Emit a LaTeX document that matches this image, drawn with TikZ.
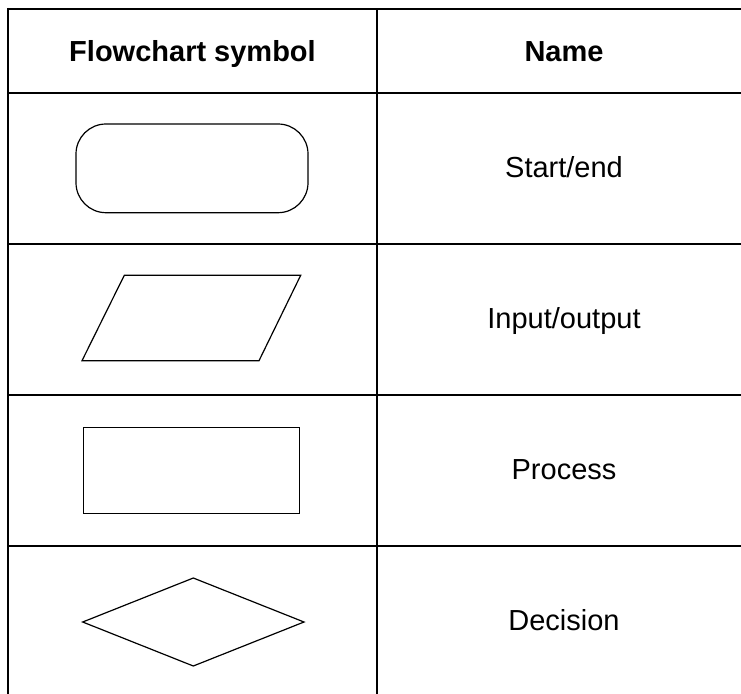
\documentclass[tikz,border=0pt]{standalone}
\usepackage{fontspec}
\setmainfont{Liberation Sans}
\begin{document}
\begin{tikzpicture}[x=1pt,y=-1pt,
  grid/.style={line width=2.4pt,black},
  symb/.style={line width=1.2pt,black,line join=miter},
  head/.style={font=\fontsize{29}{35}\selectfont\bfseries,anchor=base,inner sep=0pt},
  cell/.style={font=\fontsize{29}{35}\selectfont,anchor=base,inner sep=0pt}]
\useasboundingbox (0,0) rectangle (741,693);
\clip (0,0) rectangle (741,693);
% table grid
\draw[grid] (8,9) -- (760,9);
\draw[grid] (8,8) -- (8,700);
\draw[grid] (377,9) -- (377,700);
\foreach \yy in {93,244,395,546} \draw[grid] (8,\yy) -- (760,\yy);
% header
\node[head] (h1) at (192.5,61.5) {Flowchart symbol};
\node[head] (h2) at (564,61.5) {Name};
% names
\node[cell] (n1) at (564,177.5) {Start/end};
\node[cell] (n2) at (564,328.5) {Input/output};
\node[cell] (n3) at (564,479.5) {Process};
\node[cell] (n4) at (564,630.5) {Decision};
% symbols
\draw[symb,rounded corners=30pt] (76,124) rectangle (308,212.7);
\draw[symb] (124.3,275.3) -- (300.7,275.3) -- (259,360.7) -- (82,360.7) -- cycle;
\draw[symb] (83.3,427.3) rectangle (299.3,513.3);
\draw[symb] (82.7,622) -- (193.3,578) -- (304,622) -- (193.3,666) -- cycle;
\end{tikzpicture}
\end{document}
